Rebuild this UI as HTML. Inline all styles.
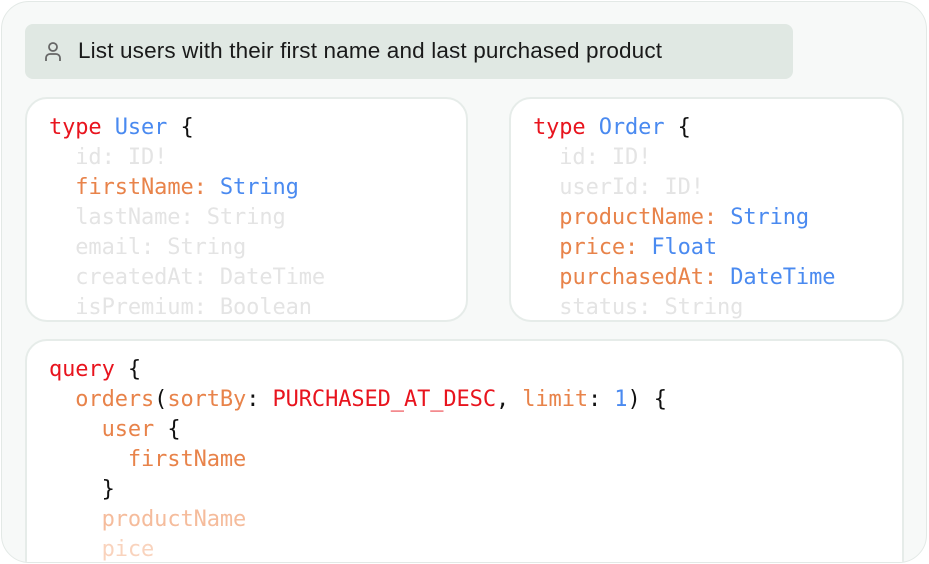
<!DOCTYPE html>
<html><head><style>
html,body{margin:0;width:929px;height:564px;overflow:hidden;background:#fff;}
.outer{position:absolute;left:1px;top:1px;width:926px;height:562px;border:1.5px solid #e3e9e6;border-radius:28px;background:#f7f9f8;box-sizing:border-box;overflow:hidden;}
.prompt{position:absolute;left:23px;top:22px;width:768px;height:55px;background:#e0e8e3;border-radius:8px;}
.prompt span{position:absolute;left:53px;top:14px;font:22.5px "Liberation Sans",sans-serif;letter-spacing:0.15px;color:#1a1a1a;white-space:nowrap;}
.card{position:absolute;background:#fff;border:2px solid #e6ece9;border-radius:22px;box-sizing:border-box;overflow:hidden;}
pre{margin:0;position:absolute;left:22px;top:14px;font:22px/30px "DejaVu Sans Mono",monospace;color:#111;letter-spacing:-0.1px;}
.r{color:#e8141e}.b{color:#4a8af0}.o{color:#e8834a}.g{color:#e4e4e4}.o2{color:#f5bc9c}.o3{color:#f9d3bd}
</style></head><body>
<div class="outer">
<div class="prompt">
<svg style="position:absolute;left:19px;top:17px" width="18" height="21" viewBox="0 0 18 21"><circle cx="9" cy="6" r="4" fill="none" stroke="#666" stroke-width="1.8"/><path d="M2 20v-3a4 4 0 0 1 4-4h6a4 4 0 0 1 4 4v3" fill="none" stroke="#666" stroke-width="1.8"/></svg>
<span>List users with their first name and last purchased product</span></div>
<div class="card" style="left:23px;top:95px;width:443px;height:225px"><pre><span class="r">type</span> <span class="b">User</span> {
<span class="g">  id: ID!</span>
  <span class="o">firstName:</span> <span class="b">String</span>
<span class="g">  lastName: String
  email: String
  createdAt: DateTime
  isPremium: Boolean</span></pre></div>
<div class="card" style="left:507px;top:95px;width:395px;height:225px"><pre><span class="r">type</span> <span class="b">Order</span> {
<span class="g">  id: ID!
  userId: ID!</span>
  <span class="o">productName:</span> <span class="b">String</span>
  <span class="o">price:</span> <span class="b">Float</span>
  <span class="o">purchasedAt:</span> <span class="b">DateTime</span>
<span class="g">  status: String</span></pre></div>
<div class="card" style="left:23px;top:337px;width:879px;height:260px"><pre style="top:14px"><span class="r">query</span> {
  <span class="o">orders</span>(<span class="o">sortBy</span>: <span class="r">PURCHASED_AT_DESC</span>, <span class="o">limit</span>: <span class="b">1</span>) {
    <span class="o">user</span> {
      <span class="o">firstName</span>
    }
    <span class="o2">productName</span>
    <span class="o3">pice</span></pre></div>
</div></body></html>
